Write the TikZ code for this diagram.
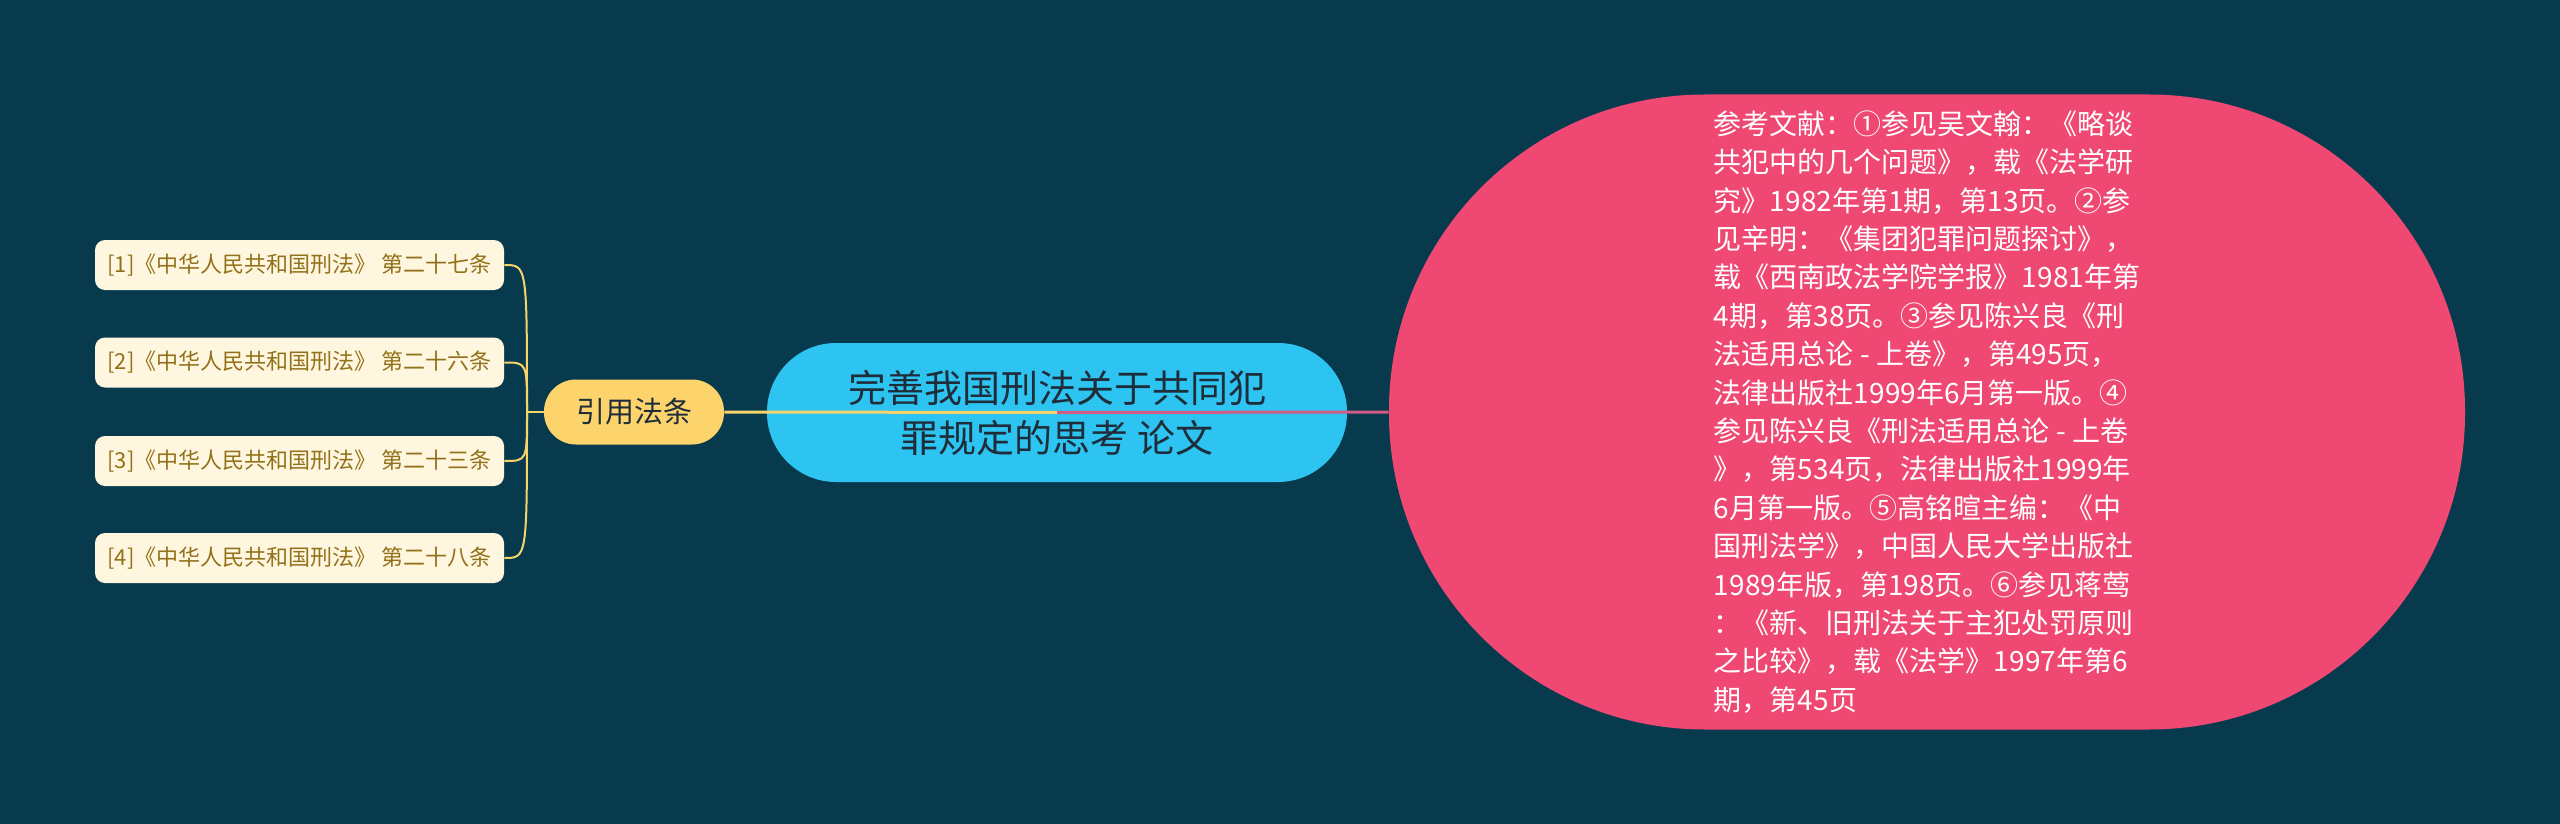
\documentclass[tikz,border=0pt]{standalone}
\usepackage{fontspec}
\setmainfont{Noto Sans CJK SC}
\usepackage{tikz}
\usetikzlibrary{calc,positioning}
\definecolor{bgteal}{HTML}{083A4D}
\definecolor{rootcyan}{HTML}{2EC4F2}
\definecolor{rootink}{HTML}{1F2D3A}
\definecolor{topicgold}{HTML}{FDD46C}
\definecolor{leafcream}{HTML}{FEF6DE}
\definecolor{leafink}{HTML}{93711A}
\definecolor{notepink}{HTML}{EF4872}
\definecolor{twigyellow}{HTML}{F6D46B}
\tikzset{
  rootbox/.style={fill=rootcyan,text=rootink,align=center,
    minimum width=290pt,minimum height=69.5pt,rounded corners=34.5pt,
    font=\fontsize{19pt}{25pt}\selectfont},
  topic/.style={fill=topicgold,text=rootink,minimum width=90pt,
    minimum height=32.5pt,rounded corners=16pt,
    font=\fontsize{14.5pt}{18pt}\selectfont},
  leaf/.style={fill=leafcream,text=leafink,minimum width=204.5pt,
    minimum height=25pt,rounded corners=5pt,inner sep=0pt,
    font=\fontsize{11pt}{13pt}\selectfont},
  note/.style={fill=notepink,text=white,align=left,
    minimum width=538pt,minimum height=317.5pt,rounded corners=158pt,
    font=\fontsize{14pt}{19.2pt}\selectfont},
  twig/.style={draw=twigyellow,line width=1pt},
  trunk/.style={line width=1.5pt}
}

\begin{document}
\begin{tikzpicture}[x=0.5pt,y=-0.5pt]
  \useasboundingbox[fill=bgteal] (0,0) rectangle (2560,824);
  \node[rootbox] (root) at (1057,412.5) {完善我国刑法关于共同犯\\罪规定的思考 论文};
  \node[topic] (cite) at (634,412) {引用法条};
  \node[note] (refs) at (1927,412) {参考文献：①参见吴文翰：《略谈\\
    共犯中的几个问题》，载《法学研\\
    究》1982年第1期，第13页。②参\\
    见辛明：《集团犯罪问题探讨》，\\
    载《西南政法学院学报》1981年第\\
    4期，第38页。③参见陈兴良《刑\\
    法适用总论 - 上卷》，第495页，\\
    法律出版社1999年6月第一版。④\\
    参见陈兴良《刑法适用总论 - 上卷\\
    》，第534页，法律出版社1999年\\
    6月第一版。⑤高铭暄主编：《中\\
    国刑法学》，中国人民大学出版社\\
    1989年版，第198页。⑥参见蒋莺\\
    ：《新、旧刑法关于主犯处罚原则\\
    之比较》，载《法学》1997年第6\\
    期，第45页};
  % leaves and their brackets
  \coordinate (jn) at (527,412);
  \foreach \i/\y/\n in {1/265/七,2/362.5/六,3/461/三,4/558/八} {
    \node[leaf] (leaf\i) at (299.5,\y) {[\i]《中华人民共和国刑法》 第二十{\n}条};
    \draw[twig] (jn) .. controls (jn |- leaf\i.east) .. (leaf\i.east);
  }
  \draw[twig] (cite.west) -- (jn);
  \draw[trunk,twigyellow] (cite.east) -- (root.center);
  \draw[trunk,notepink!85!rootcyan] (root.center) -- (refs.west);
\end{tikzpicture}
\end{document}
